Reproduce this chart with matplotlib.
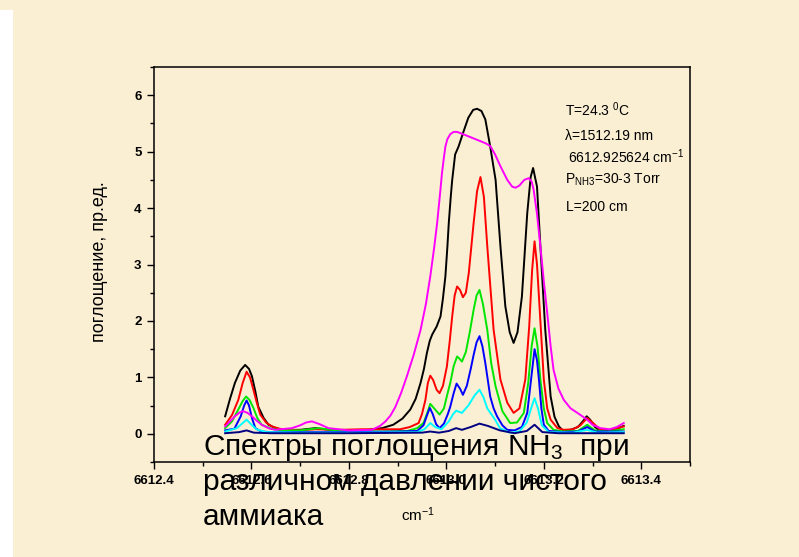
import matplotlib
matplotlib.use("Agg")
import matplotlib.pyplot as plt
from matplotlib.patches import Rectangle
from matplotlib.ticker import MultipleLocator

plt.rcParams['font.family'] = ['Liberation Sans', 'DejaVu Sans']
plt.rcParams['mathtext.fontset'] = 'custom'
plt.rcParams['mathtext.rm'] = 'Liberation Sans'
plt.rcParams['mathtext.it'] = 'Liberation Sans:italic'

# absorption spectra of NH3, one trace per pressure
black_x = [6612.546, 6612.556, 6612.566, 6612.577, 6612.587, 6612.595, 6612.601, 6612.608, 6612.614, 6612.625,
           6612.635, 6612.650, 6612.662, 6612.700, 6612.731, 6612.760, 6612.800, 6612.840, 6612.868, 6612.891,
           6612.910, 6612.926, 6612.937, 6612.947, 6612.954, 6612.960, 6612.966, 6612.971, 6612.980, 6612.988,
           6612.993, 6612.998, 6613.002, 6613.005, 6613.009, 6613.012, 6613.018, 6613.025, 6613.035, 6613.045,
           6613.055, 6613.063, 6613.072, 6613.080, 6613.090, 6613.101, 6613.111, 6613.121, 6613.130, 6613.138,
           6613.146, 6613.155, 6613.160, 6613.166, 6613.173, 6613.178, 6613.186, 6613.193, 6613.203, 6613.214,
           6613.222, 6613.231, 6613.240, 6613.255, 6613.270, 6613.280, 6613.288, 6613.295, 6613.305, 6613.316,
           6613.335, 6613.350, 6613.364]
black_y = [0.31, 0.62, 0.90, 1.12, 1.22, 1.15, 1.02, 0.75, 0.48, 0.28,
           0.16, 0.10, 0.07, 0.07, 0.10, 0.07, 0.06, 0.07, 0.10, 0.16,
           0.27, 0.43, 0.62, 0.90, 1.15, 1.43, 1.65, 1.76, 1.90, 2.08,
           2.40, 2.79, 3.30, 3.74, 4.20, 4.50, 4.95, 5.09, 5.35, 5.60,
           5.74, 5.76, 5.72, 5.57, 5.09, 4.50, 3.32, 2.26, 1.80, 1.61,
           1.80, 2.43, 3.10, 3.91, 4.55, 4.71, 4.38, 3.32, 1.84, 0.66,
           0.30, 0.13, 0.05, 0.07, 0.12, 0.22, 0.31, 0.25, 0.12, 0.05,
           0.05, 0.09, 0.14]

red_x = [6612.546, 6612.560, 6612.573, 6612.582, 6612.590, 6612.597, 6612.604, 6612.611, 6612.618, 6612.630,
         6612.642, 6612.662, 6612.700, 6612.731, 6612.780, 6612.827, 6612.870, 6612.905, 6612.925, 6612.943,
         6612.950, 6612.957, 6612.962, 6612.967, 6612.973, 6612.980, 6612.986, 6612.993, 6613.001, 6613.007,
         6613.012, 6613.017, 6613.022, 6613.028, 6613.034, 6613.040, 6613.046, 6613.056, 6613.063, 6613.070,
         6613.077, 6613.084, 6613.097, 6613.111, 6613.125, 6613.138, 6613.150, 6613.162, 6613.170, 6613.176,
         6613.181, 6613.186, 6613.190, 6613.200, 6613.207, 6613.214, 6613.228, 6613.241, 6613.260, 6613.275,
         6613.289, 6613.300, 6613.316, 6613.340, 6613.364]
red_y = [0.16, 0.33, 0.60, 0.90, 1.10, 1.00, 0.78, 0.55, 0.34, 0.20,
         0.13, 0.08, 0.06, 0.08, 0.07, 0.08, 0.08, 0.08, 0.12, 0.19,
         0.35, 0.60, 0.90, 1.03, 0.95, 0.78, 0.72, 0.85, 1.19, 1.65,
         2.08, 2.45, 2.61, 2.55, 2.42, 2.50, 2.85, 3.74, 4.30, 4.55,
         4.20, 3.32, 1.84, 0.96, 0.55, 0.37, 0.45, 0.96, 1.90, 2.90,
         3.41, 3.00, 2.43, 0.96, 0.45, 0.25, 0.10, 0.07, 0.08, 0.15,
         0.28, 0.20, 0.07, 0.07, 0.13]

green_x = [6612.546, 6612.560, 6612.573, 6612.582, 6612.589, 6612.596, 6612.604, 6612.612, 6612.621, 6612.640,
           6612.662, 6612.700, 6612.738, 6612.780, 6612.827, 6612.880, 6612.920, 6612.940, 6612.953, 6612.960,
           6612.967, 6612.975, 6612.986, 6612.995, 6613.002, 6613.008, 6613.015, 6613.022, 6613.027, 6613.032,
           6613.040, 6613.048, 6613.056, 6613.062, 6613.068, 6613.075, 6613.084, 6613.092, 6613.101, 6613.115,
           6613.131, 6613.145, 6613.159, 6613.168, 6613.175, 6613.181, 6613.187, 6613.193, 6613.200, 6613.207,
           6613.220, 6613.240, 6613.270, 6613.289, 6613.305, 6613.330, 6613.364]
green_y = [0.10, 0.22, 0.43, 0.58, 0.66, 0.60, 0.46, 0.28, 0.16, 0.09,
           0.06, 0.06, 0.10, 0.05, 0.04, 0.04, 0.05, 0.10, 0.19, 0.35,
           0.53, 0.45, 0.34, 0.45, 0.70, 0.90, 1.20, 1.37, 1.33, 1.28,
           1.45, 1.80, 2.20, 2.45, 2.55, 2.30, 1.84, 1.25, 0.84, 0.40,
           0.19, 0.20, 0.37, 0.90, 1.55, 1.87, 1.55, 0.96, 0.45, 0.19,
           0.07, 0.04, 0.05, 0.16, 0.06, 0.04, 0.08]

blue_x = [6612.546, 6612.565, 6612.578, 6612.585, 6612.590, 6612.595, 6612.601, 6612.608, 6612.620, 6612.640,
          6612.700, 6612.800, 6612.900, 6612.940, 6612.953, 6612.960, 6612.966, 6612.972, 6612.979, 6612.986,
          6612.995, 6613.003, 6613.008, 6613.015, 6613.021, 6613.028, 6613.034, 6613.042, 6613.050, 6613.056,
          6613.062, 6613.068, 6613.074, 6613.080, 6613.090, 6613.097, 6613.104, 6613.115, 6613.125, 6613.140,
          6613.155, 6613.166, 6613.173, 6613.181, 6613.186, 6613.190, 6613.195, 6613.200, 6613.210, 6613.240,
          6613.270, 6613.289, 6613.305, 6613.364]
blue_y = [0.06, 0.09, 0.31, 0.50, 0.59, 0.50, 0.28, 0.10, 0.04, 0.03,
          0.03, 0.03, 0.04, 0.05, 0.15, 0.32, 0.46, 0.35, 0.17, 0.10,
          0.18, 0.35, 0.48, 0.72, 0.89, 0.80, 0.69, 0.85, 1.15, 1.40,
          1.62, 1.73, 1.55, 1.25, 0.66, 0.45, 0.31, 0.15, 0.07, 0.06,
          0.12, 0.37, 0.90, 1.50, 1.30, 0.96, 0.45, 0.16, 0.05, 0.03,
          0.04, 0.12, 0.04, 0.04]

cyan_x = [6612.546, 6612.570, 6612.582, 6612.590, 6612.598, 6612.610, 6612.630, 6612.700, 6612.800, 6612.940,
          6612.955, 6612.967, 6612.977, 6612.990, 6613.005, 6613.014, 6613.020, 6613.026, 6613.032, 6613.045,
          6613.058, 6613.068, 6613.076, 6613.084, 6613.092, 6613.100, 6613.110, 6613.130, 6613.150, 6613.165,
          6613.175, 6613.181, 6613.188, 6613.196, 6613.210, 6613.260, 6613.289, 6613.310, 6613.364]
cyan_y = [0.04, 0.10, 0.19, 0.25, 0.18, 0.08, 0.03, 0.02, 0.02, 0.03,
          0.08, 0.19, 0.12, 0.08, 0.22, 0.35, 0.41, 0.39, 0.37, 0.50,
          0.68, 0.78, 0.65, 0.45, 0.35, 0.25, 0.10, 0.02, 0.04, 0.20,
          0.48, 0.63, 0.45, 0.15, 0.03, 0.02, 0.07, 0.02, 0.03]

navy_x = [6612.546, 6612.575, 6612.590, 6612.605, 6612.640, 6612.800, 6612.950, 6612.967, 6612.985, 6613.005,
          6613.020, 6613.032, 6613.050, 6613.068, 6613.085, 6613.110, 6613.140, 6613.165, 6613.181, 6613.197,
          6613.230, 6613.364]
navy_y = [0.01, 0.03, 0.06, 0.02, 0.01, 0.01, 0.02, 0.04, 0.02, 0.05,
          0.10, 0.07, 0.12, 0.18, 0.14, 0.06, 0.01, 0.05, 0.16, 0.03,
          0.01, 0.01]

magenta_x = [6612.546, 6612.556, 6612.566, 6612.576, 6612.583, 6612.592, 6612.601, 6612.611, 6612.621, 6612.635,
             6612.649, 6612.683, 6612.700, 6612.712, 6612.724, 6612.740, 6612.758, 6612.799, 6612.847, 6612.864,
             6612.875, 6612.885, 6612.895, 6612.907, 6612.919, 6612.933, 6612.947, 6612.958, 6612.967, 6612.975,
             6612.981, 6612.987, 6612.991, 6612.995, 6612.998, 6613.002, 6613.008, 6613.015, 6613.022, 6613.040,
             6613.060, 6613.080, 6613.090, 6613.100, 6613.111, 6613.125, 6613.135, 6613.142, 6613.150, 6613.160,
             6613.169, 6613.175, 6613.179, 6613.186, 6613.193, 6613.200, 6613.207, 6613.214, 6613.220, 6613.230,
             6613.241, 6613.255, 6613.269, 6613.289, 6613.300, 6613.316, 6613.335, 6613.350, 6613.364]
magenta_y = [0.13, 0.22, 0.31, 0.38, 0.40, 0.37, 0.31, 0.23, 0.16, 0.10,
             0.07, 0.10, 0.15, 0.20, 0.22, 0.17, 0.10, 0.06, 0.07, 0.14,
             0.22, 0.32, 0.47, 0.72, 1.02, 1.40, 1.84, 2.30, 2.79, 3.30,
             3.73, 4.25, 4.62, 4.90, 5.09, 5.22, 5.31, 5.35, 5.35, 5.29,
             5.22, 5.15, 5.10, 4.95, 4.74, 4.50, 4.38, 4.36, 4.40, 4.50,
             4.53, 4.47, 4.33, 3.90, 3.32, 2.70, 2.14, 1.55, 1.13, 0.80,
             0.60, 0.45, 0.37, 0.25, 0.16, 0.10, 0.08, 0.12, 0.19]

series = [
    (black_x, black_y, 'black'),
    (red_x, red_y, '#ff0000'),
    (green_x, green_y, '#00e600'),
    (blue_x, blue_y, '#0000ff'),
    (cyan_x, cyan_y, '#00ffff'),
    (navy_x, navy_y, '#000080'),
    (magenta_x, magenta_y, '#ff00ff'),
]

x_ticks = [6612.4, 6612.6, 6612.8, 6613.0, 6613.2, 6613.4]
y_ticks = [0, 1, 2, 3, 4, 5, 6]

bg = '#faeed3'
fig = plt.figure(figsize=(7.99, 5.57), dpi=100, facecolor=bg)
fig.patches.append(Rectangle((0, 0), 13 / 799, 547 / 557, transform=fig.transFigure,
                             facecolor='white', edgecolor='none'))

ax = fig.add_axes([154 / 799, 1 - 462 / 557, 536 / 799, 395 / 557])
ax.set_facecolor('none')

for xs, ys, c in series:
    ax.plot(xs, ys, color=c, lw=1.4, solid_joinstyle='round')

ax.set_xlim(6612.4, 6613.5)
ax.set_ylim(-0.5, 6.5)
ax.set_xticks(x_ticks)
ax.set_xticklabels([f'{v:.1f}' for v in x_ticks])
ax.set_yticks(y_ticks)
ax.xaxis.set_minor_locator(MultipleLocator(0.1))
ax.yaxis.set_minor_locator(MultipleLocator(0.5))
ax.tick_params(which='both', direction='out', top=False, right=False, width=1)
ax.tick_params(which='major', length=5, labelsize=9.5, pad=4)
ax.tick_params(which='minor', length=3)
for lab in ax.get_xticklabels() + ax.get_yticklabels():
    lab.set_fontweight('bold')
for sp in ax.spines.values():
    sp.set_linewidth(1.1)

# axis captions
fig.text(100 / 799, 1 - 262 / 557, 'поглощение, пр.ед.', rotation=90,
         ha='center', va='center', fontsize=13)
fig.text(418 / 799, 1 - 521 / 557, 'cm$^{-1}$', ha='center', va='baseline', fontsize=11)

# measurement conditions
fig.text(565 / 799, 1 - 110 / 557, 'T=24.3 $^{0}$C', va='center', fontsize=10)
fig.text(565 / 799, 1 - 136 / 557, 'λ=1512.19 nm', va='center', fontsize=10)
fig.text(568 / 799, 1 - 157 / 557, '6612.925624 cm$^{-1}$', va='center', fontsize=10)
fig.text(565 / 799, 1 - 180 / 557, r'P$_{\mathregular{NH3}}$=30-3 Torr', va='center', fontsize=10)
fig.text(566 / 799, 1 - 207 / 557, 'L=200 cm', va='center', fontsize=10)

# slide caption
fig.text(203 / 799, 1 - 455 / 557, 'Спектры поглощения NH$_3$  при', va='baseline', fontsize=21.5)
fig.text(203 / 799, 1 - 490 / 557, 'различном давлении чистого', va='baseline', fontsize=21.5)
fig.text(203 / 799, 1 - 525 / 557, 'аммиака', va='baseline', fontsize=21.5)

fig.savefig('out.png', dpi=100, facecolor=bg)
